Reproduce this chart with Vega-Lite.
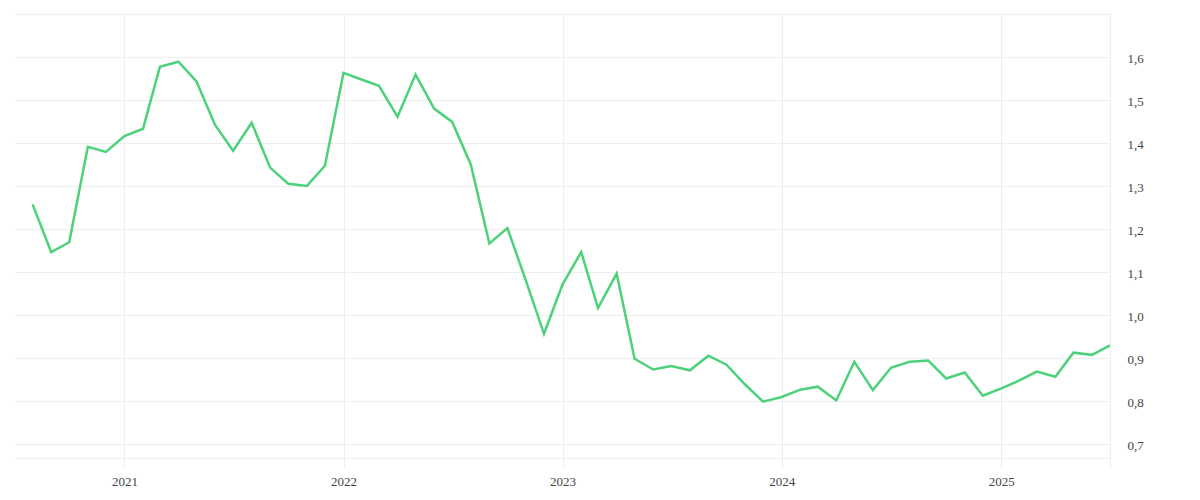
{
  "$schema": "https://vega.github.io/schema/vega-lite/v6.json",
  "width": 1096,
  "height": 444,
  "autosize": {"type": "none"},
  "padding": {"left": 14, "top": 14, "right": 90, "bottom": 42},
  "background": "#ffffff",
  "config": {
    "view": {"stroke": null},
    "axis": {
      "labelFont": "Liberation Serif",
      "labelFontSize": 13,
      "labelColor": "#444444",
      "gridColor": "#eeeeee",
      "gridWidth": 1
    }
  },
  "data": {
    "values": [
      {"month": "2020/08/01", "val": 1.257},
      {"month": "2020/09/01", "val": 1.146},
      {"month": "2020/10/01", "val": 1.169},
      {"month": "2020/11/01", "val": 1.391},
      {"month": "2020/12/01", "val": 1.379},
      {"month": "2021/01/01", "val": 1.416},
      {"month": "2021/02/01", "val": 1.433},
      {"month": "2021/03/01", "val": 1.577},
      {"month": "2021/04/01", "val": 1.589},
      {"month": "2021/05/01", "val": 1.543},
      {"month": "2021/06/01", "val": 1.442},
      {"month": "2021/07/01", "val": 1.382},
      {"month": "2021/08/01", "val": 1.447},
      {"month": "2021/09/01", "val": 1.342},
      {"month": "2021/10/01", "val": 1.305},
      {"month": "2021/11/01", "val": 1.300},
      {"month": "2021/12/01", "val": 1.347},
      {"month": "2022/01/01", "val": 1.563},
      {"month": "2022/02/01", "val": 1.547},
      {"month": "2022/03/01", "val": 1.533},
      {"month": "2022/04/01", "val": 1.461},
      {"month": "2022/05/01", "val": 1.559},
      {"month": "2022/06/01", "val": 1.480},
      {"month": "2022/07/01", "val": 1.449},
      {"month": "2022/08/01", "val": 1.350},
      {"month": "2022/09/01", "val": 1.166},
      {"month": "2022/10/01", "val": 1.202},
      {"month": "2022/11/01", "val": 1.079},
      {"month": "2022/12/01", "val": 0.956},
      {"month": "2023/01/01", "val": 1.071},
      {"month": "2023/02/01", "val": 1.146},
      {"month": "2023/03/01", "val": 1.016},
      {"month": "2023/04/01", "val": 1.096},
      {"month": "2023/05/01", "val": 0.898},
      {"month": "2023/06/01", "val": 0.873},
      {"month": "2023/07/01", "val": 0.881},
      {"month": "2023/08/01", "val": 0.871},
      {"month": "2023/09/01", "val": 0.905},
      {"month": "2023/10/01", "val": 0.884},
      {"month": "2023/11/01", "val": 0.838},
      {"month": "2023/12/01", "val": 0.798},
      {"month": "2024/01/01", "val": 0.809},
      {"month": "2024/02/01", "val": 0.826},
      {"month": "2024/03/01", "val": 0.833},
      {"month": "2024/04/01", "val": 0.801},
      {"month": "2024/05/01", "val": 0.891},
      {"month": "2024/06/01", "val": 0.825},
      {"month": "2024/07/01", "val": 0.877},
      {"month": "2024/08/01", "val": 0.891},
      {"month": "2024/09/01", "val": 0.894},
      {"month": "2024/10/01", "val": 0.852},
      {"month": "2024/11/01", "val": 0.866},
      {"month": "2024/12/01", "val": 0.812},
      {"month": "2025/01/01", "val": 0.829},
      {"month": "2025/02/01", "val": 0.848},
      {"month": "2025/03/01", "val": 0.868},
      {"month": "2025/04/01", "val": 0.856},
      {"month": "2025/05/01", "val": 0.912},
      {"month": "2025/06/01", "val": 0.907},
      {"month": "2025/07/01", "val": 0.929}
    ]
  },
  "mark": {"type": "line", "color": "#4dd17a", "strokeWidth": 2.5, "clip": true},
  "encoding": {
    "x": {
      "field": "month",
      "type": "temporal",
      "title": null,
      "scale": {
        "domain": [
          {"year": 2020, "month": 7, "date": 1},
          {"year": 2025, "month": 7, "date": 1}
        ]
      },
      "axis": {
        "values": [
          {"year": 2021, "month": 1, "date": 1},
          {"year": 2022, "month": 1, "date": 1},
          {"year": 2023, "month": 1, "date": 1},
          {"year": 2024, "month": 1, "date": 1},
          {"year": 2025, "month": 1, "date": 1},
          {"year": 2025, "month": 7, "date": 1}
        ],
        "labelExpr": "month(datum.value) == 0 ? timeFormat(datum.value, '%Y') : ''",
        "grid": true,
        "domain": true,
        "domainColor": "#eeeeee",
        "ticks": true,
        "tickColor": "#eeeeee",
        "tickSize": 10,
        "labelPadding": 7,
        "labelAngle": 0
      }
    },
    "y": {
      "field": "val",
      "type": "quantitative",
      "title": null,
      "scale": {"domain": [0.667, 1.7], "nice": false, "zero": false},
      "axis": {
        "orient": "right",
        "values": [0.7, 0.8, 0.9, 1.0, 1.1, 1.2, 1.3, 1.4, 1.5, 1.6, 1.7],
        "labelExpr": "datum.value > 1.65 ? '' : replace(format(datum.value, '.1f'), '.', ',')",
        "grid": true,
        "domain": false,
        "ticks": false,
        "labelPadding": 17,
        "labelOffset": 2
      }
    }
  }
}
